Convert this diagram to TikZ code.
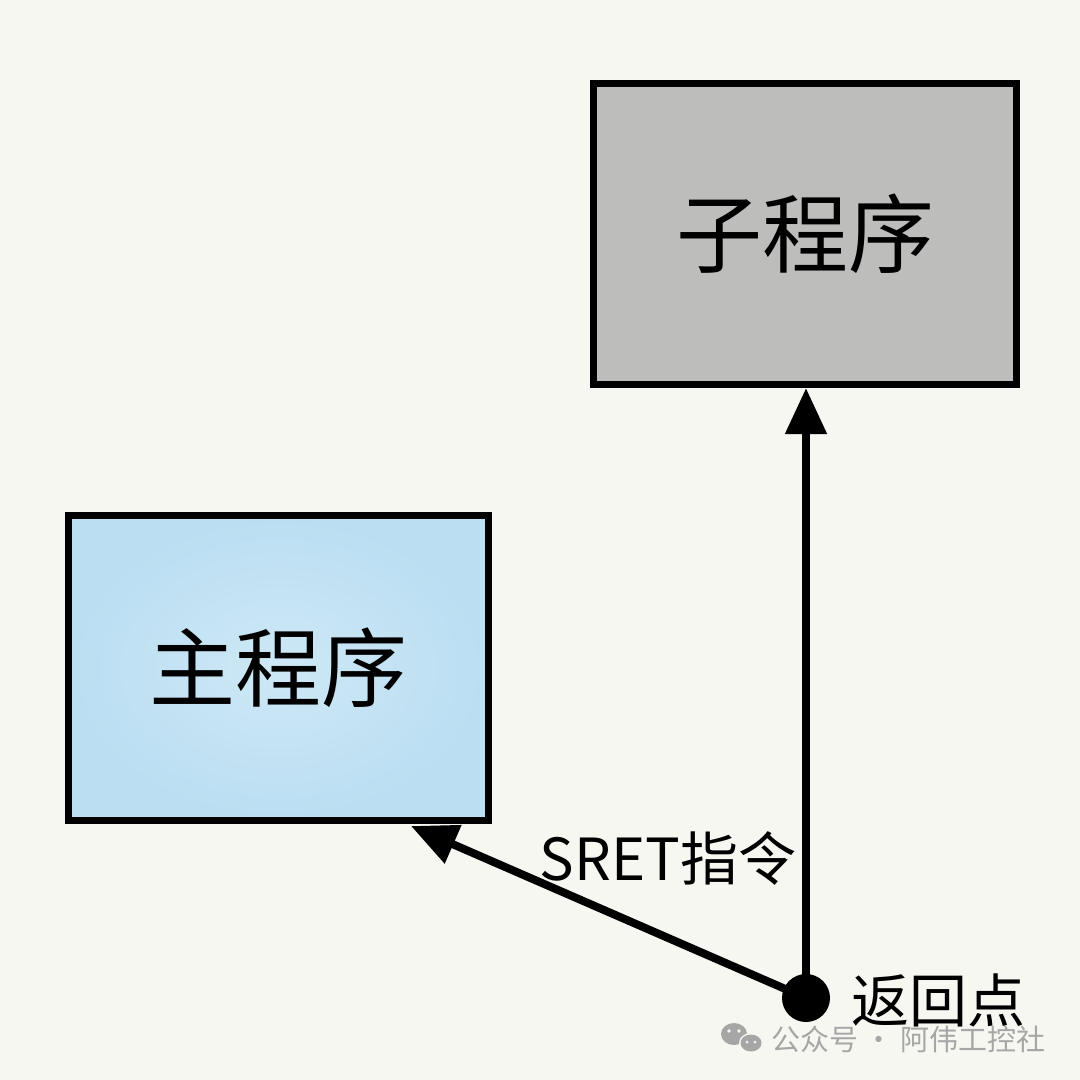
\documentclass[tikz,border=0pt]{standalone}
\usepackage{fontspec}
\setmainfont{Noto Sans CJK SC}
\usetikzlibrary{arrows.meta,shapes.geometric}
\definecolor{bgc}{HTML}{F7F7F2}
\definecolor{subgray}{HTML}{BDBDBB}
\definecolor{blueout}{HTML}{BBDEF2}
\definecolor{bluein}{HTML}{CDE8F6}
\definecolor{wmgray}{HTML}{A6A6A6}
\tikzset{
  progbox/.style={draw=black, line width=7pt, minimum width=423pt, minimum height=301pt, inner sep=0pt, font=\fontsize{86}{90}\selectfont},
  conn/.style={line width=8pt, -{Triangle[length=46pt,width=40pt]}},
  lbl/.style={inner sep=0pt, font=\fontsize{58}{62}\selectfont}
}
\begin{document}
\begin{tikzpicture}[x=1pt,y=-1pt]
\fill[bgc] (0,0) rectangle (1080,1080);
\useasboundingbox (0,0) rectangle (1080,1080);
\node[progbox, fill=subgray] (sub) at (805,234) {子程序};
\node[progbox, minimum width=420pt, minimum height=305pt, inner color=bluein, outer color=blueout] (main) at (278.5,668) {主程序};
\node[circle, fill=black, minimum size=48pt, inner sep=0pt] (ret) at (806,998) {};
\coordinate (tipA) at (411,826);
\draw[conn] (ret.center) -- (ret |- sub.south);
\draw[conn] (ret.center) -- (tipA);
\node[lbl] (sret) at (668,858) {SRET指令};
\node[lbl] (back) at (938,1000) {返回点};
% watermark
\fill[wmgray] (734,1034) ellipse [x radius=13pt, y radius=11pt];
\fill[bgc] (751,1043) ellipse [x radius=12pt, y radius=10pt];
\fill[wmgray] (751,1043) ellipse [x radius=10.5pt, y radius=8.5pt];
\fill[bgc] (729,1031) circle (1.8pt) (739,1031) circle (1.8pt) (747,1042) circle (1.5pt) (755,1042) circle (1.5pt);
\node[inner sep=0pt, text=wmgray, font=\fontsize{29}{32}\selectfont] (wm) at (908,1039) {公众号 · 阿伟工控社};
\end{tikzpicture}
\end{document}
